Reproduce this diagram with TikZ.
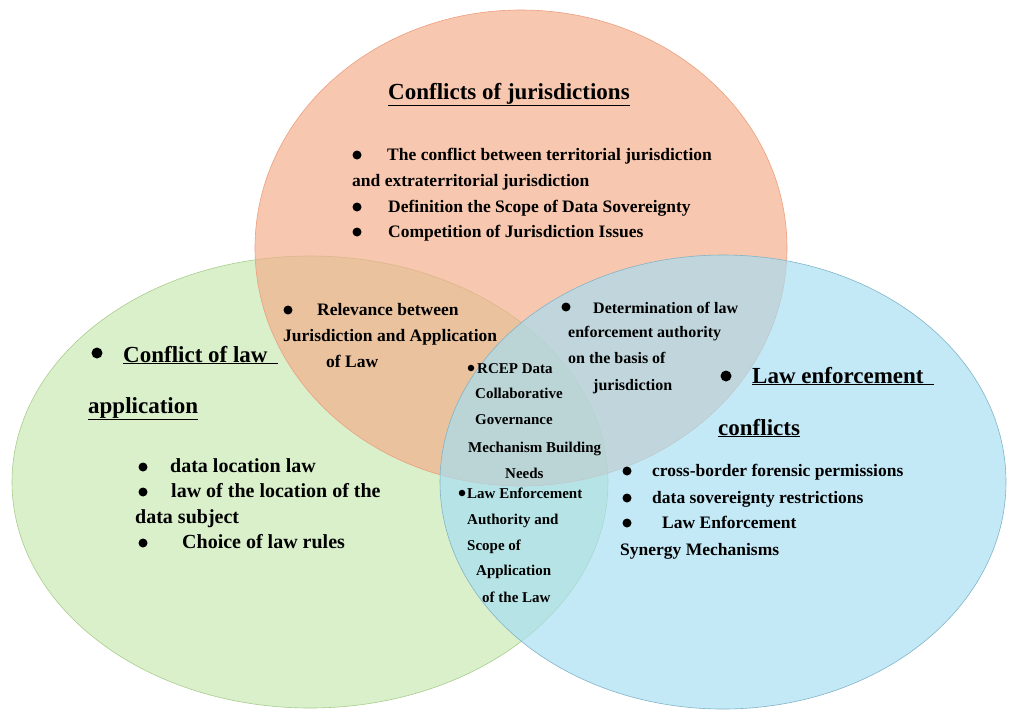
\documentclass[tikz,border=0pt]{standalone}
\usepackage{fontspec}
\setmainfont{Liberation Serif}
\definecolor{jurfill}{RGB}{243,172,136}
\definecolor{jurline}{RGB}{236,160,128}
\definecolor{appfill}{RGB}{198,232,178}
\definecolor{appline}{RGB}{170,205,140}
\definecolor{enffill}{RGB}{166,222,243}
\definecolor{enfline}{RGB}{130,180,200}
\begin{document}
\begin{tikzpicture}[x=1pt, y=-1pt]
  \tikzstyle{set_area} = [fill opacity = 0.67, line width = 0.6pt]
  \tikzstyle{heading} = [anchor = base west, inner sep = 0pt, font = \bfseries\fontsize{23}{23}\selectfont]
  \tikzstyle{body} = [anchor = base west, inner sep = 0pt, font = \bfseries\fontsize{17.5}{17.5}\selectfont]
  \tikzstyle{body_big} = [body, font = \bfseries\fontsize{20}{20}\selectfont]
  \tikzstyle{body_small} = [body, font = \bfseries\fontsize{16}{16}\selectfont]
  \tikzstyle{lens} = [body, font = \bfseries\fontsize{15}{15}\selectfont]
  \tikzstyle{dot} = [circle, fill = black, inner sep = 0pt, minimum size = 9pt]
  \tikzstyle{dot_big} = [dot, minimum size = 11pt]
  \tikzstyle{dot_small} = [dot, minimum size = 6.5pt]

  \useasboundingbox (0,0) rectangle (1011,710);

  % the three sets
  \draw[set_area, fill = appfill, draw = appline] (310,482) ellipse [x radius = 298pt, y radius = 226pt];
  \draw[set_area, fill = jurfill, draw = jurline] (521,248) ellipse [x radius = 266pt, y radius = 238pt];
  \draw[set_area, fill = enffill, draw = enfline] (723,482) ellipse [x radius = 283pt, y radius = 227pt];

  % jurisdiction
  \node [heading] at (388,99) (jur_title) {\underline{Conflicts of jurisdictions}};
  \node [dot] at (357,155) (jur_dot_a) {};
  \node [body] at (387,160) (jur_a) {The conflict between territorial jurisdiction};
  \node [body] at (352,186) (jur_a2) {and extraterritorial jurisdiction};
  \node [dot] at (357,207) (jur_dot_b) {};
  \node [body] at (388,212) (jur_b) {Definition the Scope of Data Sovereignty};
  \node [dot] at (357,232) (jur_dot_c) {};
  \node [body] at (388,237) (jur_c) {Competition of Jurisdiction Issues};

  % jurisdiction and application
  \node [dot] at (288,310) (ja_dot) {};
  \node [body] at (317,315) (ja_a) {Relevance between};
  \node [body] at (283,341) (ja_b) {Jurisdiction and Application};
  \node [body] at (326,367) (ja_c) {of Law};

  % jurisdiction and enforcement
  \node [dot] at (566,307) (je_dot) {};
  \node [body_small] at (593,313) (je_a) {Determination of law};
  \node [body_small] at (568,337) (je_b) {enforcement authority};
  \node [body_small] at (568,363) (je_c) {on the basis of};
  \node [body_small] at (593,390) (je_d) {jurisdiction};

  % application
  \node [dot_big] at (97,353) (app_dot) {};
  \node [heading] at (123,362) (app_title) {\underline{Conflict of law\hspace{10pt}}};
  \node [heading] at (88,413) (app_title2) {\underline{application}};
  \node [dot] at (143,467) (app_dot_a) {};
  \node [body_big] at (170,472) (app_a) {data location law};
  \node [dot] at (143,492) (app_dot_b) {};
  \node [body_big] at (171,497) (app_b) {law of the location of the};
  \node [body_big] at (135,523) (app_b2) {data subject};
  \node [dot] at (143,543) (app_dot_c) {};
  \node [body_big] at (182,548) (app_c) {Choice of law rules};

  % enforcement
  \node [dot_big] at (726,376) (enf_dot) {};
  \node [heading] at (752,383) (enf_title) {\underline{Law enforcement\hspace{10pt}}};
  \node [heading] at (718,435) (enf_title2) {\underline{conflicts}};
  \node [dot] at (627,471) (enf_dot_a) {};
  \node [body] at (652,476) (enf_a) {cross-border forensic permissions};
  \node [dot] at (627,498) (enf_dot_b) {};
  \node [body] at (652,503) (enf_b) {data sovereignty restrictions};
  \node [dot] at (627,523) (enf_dot_c) {};
  \node [body] at (662,528) (enf_c) {Law Enforcement};
  \node [body] at (620,555) (enf_c2) {Synergy Mechanisms};

  % all three
  \node [dot_small] at (471,368) (all_dot_a) {};
  \node [lens] at (477,373) (all_a) {RCEP Data};
  \node [lens] at (475,398) (all_b) {Collaborative};
  \node [lens] at (475,424) (all_c) {Governance};
  \node [lens] at (468,452) (all_d) {Mechanism Building};
  \node [lens] at (505,478) (all_e) {Needs};
  \node [dot_small] at (462,493) (all_dot_b) {};
  \node [lens] at (467,498) (all_f) {Law Enforcement};
  \node [lens] at (467,524) (all_g) {Authority and};
  \node [lens] at (467,550) (all_h) {Scope of};
  \node [lens] at (476,575) (all_i) {Application};
  \node [lens] at (482,602) (all_j) {of the Law};
\end{tikzpicture}
\end{document}
